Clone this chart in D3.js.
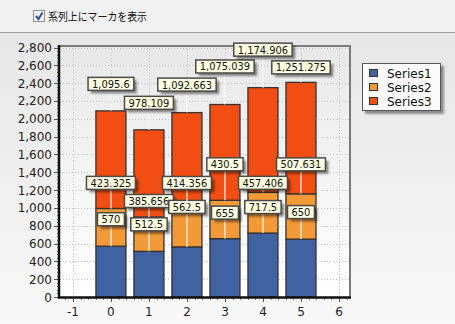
<!DOCTYPE html>
<html><head><meta charset="utf-8">
<script src="https://cdn.jsdelivr.net/npm/d3@7"></script>
<style>body{margin:0;background:#f0f0f0;overflow:hidden}svg{display:block}</style>
</head><body>
<svg id="c" width="455" height="324"></svg>
<script>
const categories = [0, 1, 2, 3, 4, 5];
const seriesNames = ["Series1", "Series2", "Series3"];
const series1 = [570, 512.5, 562.5, 655, 717.5, 650];
const series2 = [423.325, 385.656, 414.356, 430.5, 457.406, 507.631];
const series3 = [1095.6, 978.109, 1092.663, 1075.039, 1174.906, 1251.275];
const yTicks = [0, 200, 400, 600, 800, 1000, 1200, 1400, 1600, 1800, 2000, 2200, 2400, 2600, 2800];
const xTicks = [-1, 0, 1, 2, 3, 4, 5, 6];
const checkboxText = "系列上にマーカを表示";
// label lift above point (px), from picture (labels moved to avoid overlaps)
const labelLift = [[27, 27, 40, 26, 26, 27], [25.6, 16, 27, 36, 9.5, 29.5], [27, 27, 28, 38, 38, 15]];
const colors = ["#4062a0", "#f39a38", "#f24e14"];

const svg = d3.select("#c");
const defs = svg.append("defs");
const g1 = defs.append("linearGradient").attr("id", "bg").attr("x1", 0).attr("y1", 0).attr("x2", 0).attr("y2", 1);
g1.append("stop").attr("offset", 0).attr("stop-color", "#e6e6e6");
g1.append("stop").attr("offset", 1).attr("stop-color", "#f8f8f8");
const g2 = defs.append("linearGradient").attr("id", "pbg").attr("x1", 0).attr("y1", 0).attr("x2", 0).attr("y2", 1);
g2.append("stop").attr("offset", 0).attr("stop-color", "#e8e8e8");
g2.append("stop").attr("offset", 1).attr("stop-color", "#ffffff");
const f = defs.append("filter").attr("id", "sh").attr("x", "-20%").attr("y", "-30%").attr("width", "150%").attr("height", "180%");
f.append("feGaussianBlur").attr("stdDeviation", 1);

// top strip
svg.append("rect").attr("x", 0).attr("y", 0).attr("width", 455).attr("height", 32).attr("fill", "#f0f0f0");
svg.append("line").attr("x1", 0).attr("x2", 455).attr("y1", 32.5).attr("y2", 32.5).attr("stroke", "#a0a0a0");
svg.append("rect").attr("x", 0).attr("y", 33).attr("width", 455).attr("height", 291).attr("fill", "url(#bg)");
// checkbox
svg.append("rect").attr("x", 33.5).attr("y", 10.5).attr("width", 11).attr("height", 11).attr("fill", "#f4f4f4").attr("stroke", "#8e8f8f");
svg.append("path").attr("d", "M36,16 L38.5,19 L42.5,12.5").attr("fill", "none").attr("stroke", "#2a4fa0").attr("stroke-width", 2);
svg.append("text").attr("x", 48).attr("y", 21).attr("font-family", "'Noto Sans CJK JP'").attr("font-size", 11.5)
  .attr("textLength", 99).attr("lengthAdjust", "spacingAndGlyphs").attr("fill", "#111").text(checkboxText);

const L = 60, R = 350, T = 46, B = 297;
const x = d3.scaleLinear().domain([-1.34, 6.29]).range([L, R]);
const y = d3.scaleLinear().domain([0, 2817]).range([B, T]);

// plot area
svg.append("rect").attr("x", L).attr("y", T).attr("width", R - L).attr("height", B - T).attr("fill", "url(#pbg)");
// grid
svg.append("g").selectAll("line").data(yTicks.filter(d => d > 0)).join("line")
  .attr("x1", L).attr("x2", R).attr("y1", d => Math.round(y(d)) + 0.5).attr("y2", d => Math.round(y(d)) + 0.5)
  .attr("stroke", "#c4c4c4").attr("stroke-dasharray", "1,2");
svg.append("g").selectAll("line").data(xTicks).join("line")
  .attr("y1", T).attr("y2", B).attr("x1", d => Math.round(x(d)) + 0.5).attr("x2", d => Math.round(x(d)) + 0.5)
  .attr("stroke", "#c4c4c4").attr("stroke-dasharray", "1,2");
// frame top/right
svg.append("path").attr("d", `M${L},${T} H${R} V${B}`).attr("fill", "none").attr("stroke", "#7a7a7a").attr("stroke-width", 2);

// stacked bars
const data = categories.map((c, i) => ({ c, v: [series1[i], series2[i], series3[i]] }));
const bw = (x(1) - x(0)) * 0.79;
const segs = [];
data.forEach((d, i) => {
  let base = 0;
  d.v.forEach((v, s) => { segs.push({ c: d.c, i, s, y0: base, y1: base + v, v }); base += v; });
});
svg.append("g").selectAll("rect").data(segs).join("rect")
  .attr("x", d => x(d.c) - bw / 2).attr("width", bw)
  .attr("y", d => y(d.y1)).attr("height", d => y(d.y0) - y(d.y1))
  .attr("fill", d => colors[d.s]).attr("stroke", "#333").attr("stroke-width", 1.3);

// axes
const yAxisG = svg.append("g");
const yMinor = d3.range(0, 2817, 40);
yAxisG.selectAll("line.mi").data(yMinor).join("line").attr("class", "mi")
  .attr("x1", 57).attr("x2", 60).attr("y1", d => Math.round(y(d)) + 0.5).attr("y2", d => Math.round(y(d)) + 0.5)
  .attr("stroke", "#8a8a8a");
yAxisG.selectAll("line.ma").data(yTicks).join("line").attr("class", "ma")
  .attr("x1", 54).attr("x2", 60).attr("y1", d => Math.round(y(d)) + 0.5).attr("y2", d => Math.round(y(d)) + 0.5)
  .attr("stroke", "#555");
yAxisG.selectAll("text").data(yTicks).join("text")
  .attr("x", 52).attr("y", d => y(d) + 4.5).attr("text-anchor", "end")
  .attr("font-family", "'DejaVu Sans'").attr("font-size", 12).attr("fill", "#222")
  .text(d => d3.format(",")(d));
const xAxisG = svg.append("g");
const xMinor = d3.range(-1.2, 6.25, 0.2);
xAxisG.selectAll("line.mi").data(xMinor).join("line").attr("class", "mi")
  .attr("y1", B).attr("y2", B + 3).attr("x1", d => Math.round(x(d)) + 0.5).attr("x2", d => Math.round(x(d)) + 0.5)
  .attr("stroke", "#8a8a8a");
xAxisG.selectAll("line.ma").data(xTicks).join("line").attr("class", "ma")
  .attr("y1", B).attr("y2", B + 5).attr("x1", d => Math.round(x(d)) + 0.5).attr("x2", d => Math.round(x(d)) + 0.5)
  .attr("stroke", "#555");
xAxisG.selectAll("text").data(xTicks).join("text")
  .attr("x", d => x(d)).attr("y", 316).attr("text-anchor", "middle")
  .attr("font-family", "'DejaVu Sans'").attr("font-size", 12).attr("fill", "#222")
  .text(d => d);
svg.append("line").attr("x1", L - 1).attr("x2", L - 1).attr("y1", T - 1).attr("y2", B + 1.5).attr("stroke", "#111").attr("stroke-width", 2.5);
svg.append("line").attr("x1", L - 2).attr("x2", R + 1).attr("y1", B + 0.5).attr("y2", B + 0.5).attr("stroke", "#111").attr("stroke-width", 2.5);

// labels
const lab = svg.append("g");
segs.forEach(d => {
  const cx = x(d.c), py = y(d.y1), cy = py - labelLift[d.s][d.i];
  const grp = lab.append("g");
  const t = grp.append("text").attr("x", cx).attr("y", cy + 4).attr("text-anchor", "middle")
    .attr("font-family", "'DejaVu Sans Condensed','DejaVu Sans'").attr("font-size", 11).attr("fill", "#111")
    .text(d3.format(",")(d.v));
  const w = t.node().getComputedTextLength() + 8, h = 13;
  grp.insert("line", "text").attr("x1", cx).attr("x2", cx).attr("y1", cy + h / 2).attr("y2", py)
    .attr("stroke", "#fff").attr("stroke-opacity", 0.75).attr("stroke-width", 1.5);
  grp.insert("rect", "text").attr("x", cx - w / 2 + 3).attr("y", cy - h / 2 + 3).attr("width", w).attr("height", h)
    .attr("fill", "#000").attr("opacity", 0.45).attr("filter", "url(#sh)");
  grp.insert("rect", "text").attr("x", cx - w / 2).attr("y", cy - h / 2).attr("width", w).attr("height", h)
    .attr("fill", "#ffffe2").attr("stroke", "#4a4a4a").attr("stroke-width", 1.5);
});

// legend
const lg = svg.append("g");
lg.append("rect").attr("x", 365).attr("y", 66).attr("width", 79).attr("height", 48).attr("fill", "#000").attr("opacity", 0.4).attr("filter", "url(#sh)");
lg.append("rect").attr("x", 362.5).attr("y", 63.5).attr("width", 78).attr("height", 47).attr("fill", "#fbfbfb").attr("stroke", "#555");
seriesNames.forEach((n, k) => {
  lg.append("rect").attr("x", 369.5).attr("y", 69.5 + k * 14).attr("width", 8).attr("height", 7).attr("fill", colors[k]).attr("stroke", "#333");
  lg.append("text").attr("x", 387).attr("y", 77.5 + k * 14).attr("font-family", "'DejaVu Sans'").attr("font-size", 12).attr("fill", "#111").text(n);
});
</script>
</body></html>
